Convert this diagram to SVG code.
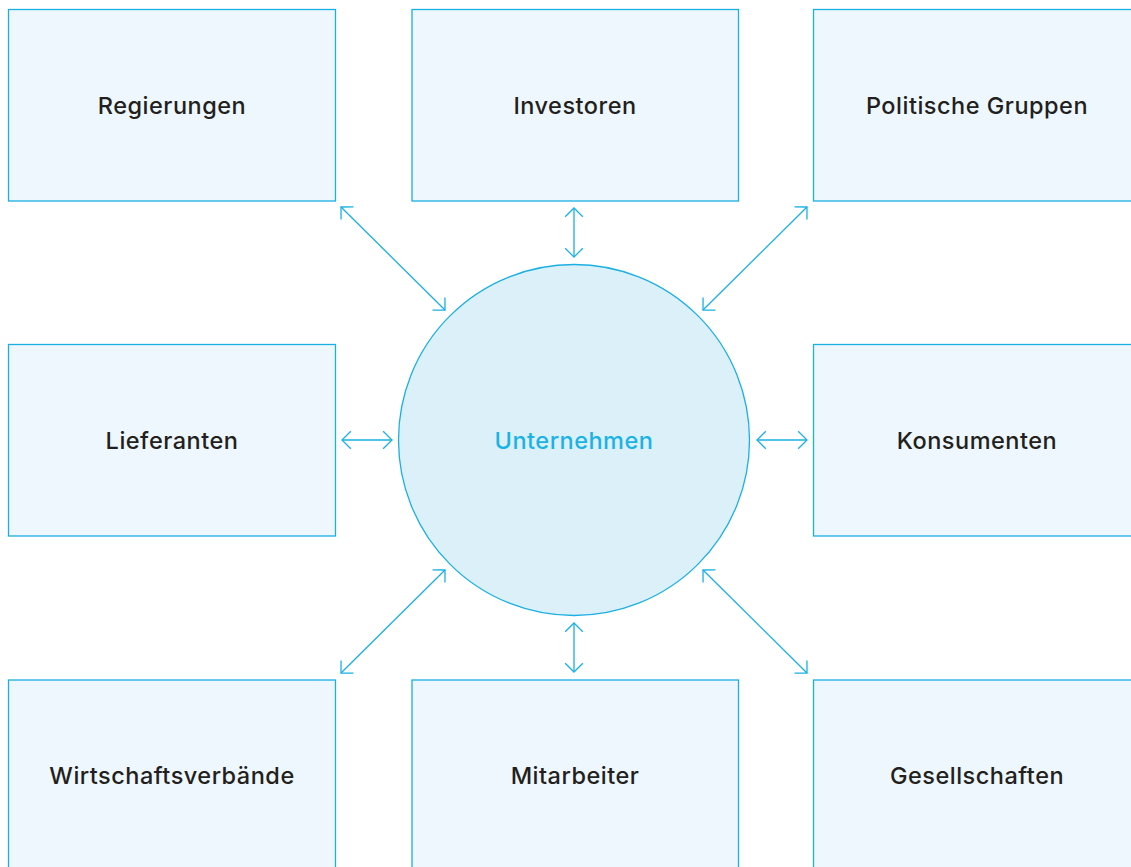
<svg xmlns="http://www.w3.org/2000/svg" width="1131" height="867" viewBox="0 0 1131 867">
  <style>
    .box { fill: #eef7fd; stroke: #1ab0e2; stroke-width: 1.3; }
    .hub { fill: #dcf0f9; stroke: #1ab0e2; stroke-width: 1.3; }
    .lbl { font-family: Inter, "Liberation Sans", Arial, sans-serif; font-size: 23.5px; font-weight: 500; letter-spacing: 0.5px; fill: #231f20; text-anchor: middle; }
    .hub-lbl { fill: #1ab3e6; }
    .link { stroke: #1ab0e2; stroke-width: 1.3; fill: none; marker-start: url(#tip); marker-end: url(#tip); }
  </style>
  <defs>
    <marker id="tip" viewBox="-10 -10 12 20" markerWidth="12" markerHeight="20" refX="0" refY="0" orient="auto-start-reverse" markerUnits="userSpaceOnUse">
      <path d="M-8.8,-8.8 L0,0 L-8.8,8.8" fill="none" stroke="#1ab0e2" stroke-width="1.3"/>
    </marker>
  </defs>
  <rect width="1131" height="867" fill="#ffffff"/>

  <g id="connectors">
    <line class="link" x1="341" y1="207" x2="445" y2="310"/>
    <line class="link" x1="574" y1="208" x2="574" y2="257"/>
    <line class="link" x1="807" y1="207" x2="703" y2="310"/>
    <line class="link" x1="342" y1="440" x2="392" y2="440"/>
    <line class="link" x1="757" y1="440" x2="807" y2="440"/>
    <line class="link" x1="445" y1="570" x2="341" y2="673"/>
    <line class="link" x1="574" y1="623" x2="574" y2="672"/>
    <line class="link" x1="703" y1="570" x2="807" y2="673"/>
  </g>

  <g id="unternehmen">
    <circle class="hub" cx="574" cy="440" r="175.5"/>
    <text class="lbl hub-lbl" x="574" y="448.5">Unternehmen</text>
  </g>

  <g id="regierungen">
    <rect class="box" x="8.5" y="9.5" width="327" height="191.5"/>
    <text class="lbl" x="172" y="114">Regierungen</text>
  </g>
  <g id="investoren">
    <rect class="box" x="412" y="9.5" width="326.5" height="191.5"/>
    <text class="lbl" x="575" y="114">Investoren</text>
  </g>
  <g id="politische-gruppen">
    <rect class="box" x="813.5" y="9.5" width="327" height="191.5"/>
    <text class="lbl" x="977" y="114">Politische Gruppen</text>
  </g>
  <g id="lieferanten">
    <rect class="box" x="8.5" y="344.5" width="327" height="191.5"/>
    <text class="lbl" x="172" y="448.5">Lieferanten</text>
  </g>
  <g id="konsumenten">
    <rect class="box" x="813.5" y="344.5" width="327" height="191.5"/>
    <text class="lbl" x="977" y="448.5">Konsumenten</text>
  </g>
  <g id="wirtschaftsverbaende">
    <rect class="box" x="8.5" y="680" width="327" height="191.5"/>
    <text class="lbl" x="172" y="784">Wirtschaftsverbände</text>
  </g>
  <g id="mitarbeiter">
    <rect class="box" x="412" y="680" width="326.5" height="191.5"/>
    <text class="lbl" x="575" y="784">Mitarbeiter</text>
  </g>
  <g id="gesellschaften">
    <rect class="box" x="813.5" y="680" width="327" height="191.5"/>
    <text class="lbl" x="977" y="784">Gesellschaften</text>
  </g>
</svg>
